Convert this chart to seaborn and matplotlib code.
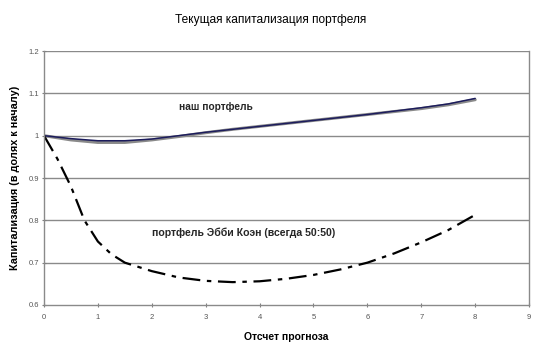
import matplotlib
matplotlib.use("Agg")
import matplotlib.pyplot as plt
import seaborn as sns
import pandas as pd

x_ours = [0, 0.5, 1, 1.5, 2, 2.5, 3, 3.5, 4, 4.5, 5, 5.5, 6, 6.5, 7, 7.5, 8]
ours_gray = [1.0, 0.99, 0.984, 0.984, 0.99, 0.998, 1.007, 1.015, 1.022, 1.029, 1.036, 1.043, 1.050, 1.057, 1.064, 1.073, 1.085]
ours_navy = [1.0, 0.993, 0.988, 0.988, 0.992, 1.0, 1.008, 1.015, 1.022, 1.029, 1.036, 1.043, 1.050, 1.058, 1.066, 1.075, 1.088]

x_abby = [0, 0.25, 0.5, 0.75, 1, 1.25, 1.5, 2, 2.5, 3, 3.5, 4, 4.5, 5, 5.5, 6, 6.5, 7, 7.5, 8]
abby = [1.0, 0.945, 0.88, 0.80, 0.75, 0.72, 0.70, 0.68, 0.665, 0.657, 0.654, 0.656, 0.662, 0.671, 0.684, 0.70, 0.722, 0.748, 0.777, 0.813]

title = "Текущая капитализация портфеля"
xlabel = "Отсчет прогноза"
ylabel = "Капитализация (в долях к началу)"
label_ours = "наш портфель"
label_abby = "портфель Эбби Коэн (всегда 50:50)"
xticks = list(range(0, 10))
yticks = [0.6, 0.7, 0.8, 0.9, 1.0, 1.1, 1.2]
ytick_labels = ["0.6", "0.7", "0.8", "0.9", "1", "1.1", "1.2"]

sns.set_theme(style="white")
plt.rcParams['font.family'] = ['Liberation Sans', 'DejaVu Sans']

fig = plt.figure(figsize=(5.41, 3.53), dpi=100)
ax = fig.add_axes([0.0813, 0.136, 0.8967, 0.7195])

df_o = pd.DataFrame({"x": x_ours, "g": ours_gray, "n": ours_navy})
df_a = pd.DataFrame({"x": x_abby, "y": abby})

sns.lineplot(data=df_o, x="x", y="g", ax=ax, color="#8a8a8a", lw=2.2)
sns.lineplot(data=df_o, x="x", y="n", ax=ax, color="#1c1c5c", lw=1.1)
sns.lineplot(data=df_a, x="x", y="y", ax=ax, color="black", lw=1.6,
             linestyle=(0, (8, 3, 2, 3)))

ax.set_xlim(0, 9)
ax.set_ylim(0.6, 1.2)
ax.set_xticks(xticks)
ax.set_yticks(yticks)
ax.set_yticklabels(ytick_labels)
ax.tick_params(axis="both", labelsize=5.5, labelcolor="#555555", colors="#808080",
               length=3, width=0.8, direction="inout")
ax.tick_params(axis="x", pad=5)
ax.tick_params(axis="y", pad=2)
ax.tick_params(axis="both", labelcolor="#555555")
for yv in yticks[1:]:
    ax.axhline(yv, color="#8a8a8a", lw=1.0, zorder=0)
for s in ["left", "bottom", "right"]:
    ax.spines[s].set_color("#8a8a8a")
    ax.spines[s].set_linewidth(1.0)
ax.spines["top"].set_visible(False)
ax.yaxis.set_ticks_position("left")
ax.xaxis.set_ticks_position("bottom")

ax.set_xlabel(xlabel, fontsize=7.5, fontweight="bold", color="black", labelpad=8)
ax.set_ylabel(ylabel, fontsize=7.8, fontweight="bold", color="black", labelpad=6)
fig.text(0.5, 0.943, title, ha="center", va="center", fontsize=8.6, color="black")

ax.text(2.5, 1.068, label_ours, fontsize=7.3, fontweight="bold", ha="left", va="center")
ax.text(2.0, 0.770, label_abby, fontsize=7.6, fontweight="bold", ha="left", va="center")

fig.savefig("out.png", dpi=100)
